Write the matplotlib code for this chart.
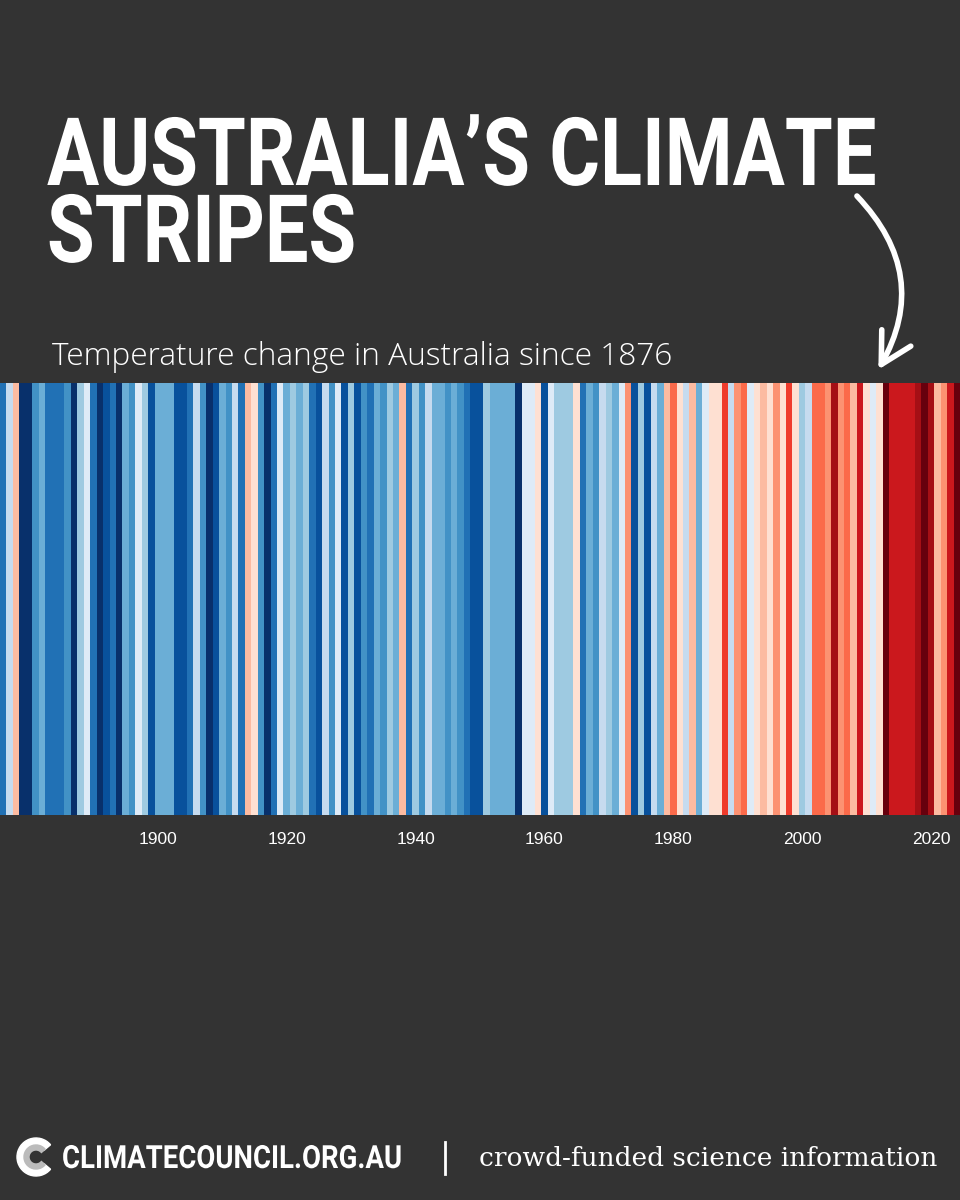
import matplotlib
matplotlib.use("Agg")
import matplotlib.pyplot as plt
from matplotlib.colors import ListedColormap, BoundaryNorm
from matplotlib.patches import Wedge, FancyArrowPatch
from matplotlib.patheffects import AbstractPathEffect
from matplotlib.transforms import Affine2D

# yearly temperature anomaly (deg C)
years = list(range(1876, 2025))
anomaly = [
    -0.55, -0.15, 0.30, -0.85, -0.85, -0.45, -0.35, -0.55, -0.55, -0.55,  # 1876-1885
    -0.45, -0.85, -0.25, -0.05, -0.55, -0.85, -0.70, -0.55, -0.85, -0.35,  # 1886-1895
    -0.45, -0.05, -0.25, -0.70, -0.35, -0.35, -0.35, -0.70, -0.70, -0.55,  # 1896-1905
    -0.15, -0.45, -0.85, -0.70, -0.35, -0.45, -0.15, -0.55, 0.30, 0.10,    # 1906-1915
    -0.45, -0.85, -0.55, -0.05, -0.35, -0.25, -0.35, -0.25, -0.55, -0.70,  # 1916-1925
    -0.15, -0.45, -0.05, -0.70, -0.25, -0.70, -0.45, -0.55, -0.35, -0.45,  # 1926-1935
    -0.25, -0.35, 0.30, -0.55, -0.25, -0.45, -0.15, -0.35, -0.35, -0.45,   # 1936-1945
    -0.35, -0.45, -0.55, -0.70, -0.70, -0.25, -0.35, -0.35, -0.35, -0.35,  # 1946-1955
    -0.85, -0.05, -0.05, 0.10, -0.70, -0.05, -0.25, -0.25, -0.25, 0.10,    # 1956-1965
    -0.55, -0.35, -0.45, -0.15, -0.25, -0.35, -0.05, 0.50, -0.70, -0.25,   # 1966-1975
    -0.70, -0.15, -0.35, 0.30, 0.70, 0.10, -0.15, 0.30, -0.35, -0.05,      # 1976-1985
    0.10, 0.10, 0.90, -0.15, 0.50, 0.70, -0.05, 0.10, 0.30, 0.10,          # 1986-1995
    0.50, 0.10, 0.90, 0.10, -0.25, -0.15, 0.70, 0.70, 0.50, 1.30,          # 1996-2005
    0.50, 0.70, 0.30, 1.10, 0.10, -0.05, 0.10, 1.50, 1.10, 1.10,           # 2006-2015
    1.10, 1.10, 1.30, 1.50, 1.30, 0.30, 0.50, 1.10, 1.50,                  # 2016-2024
]
tick_years = [1900, 1920, 1940, 1960, 1980, 2000, 2020]

stripe_colors = ['#08306b', '#08519c', '#2171b5', '#4292c6', '#6baed6', '#9ecae1',
                 '#c6dbef', '#deebf7', '#fee0d2', '#fcbba1', '#fc9272', '#fb6a4a',
                 '#ef3b2c', '#cb181d', '#a50f15', '#67000d']
bounds = [-0.95, -0.775, -0.625, -0.5, -0.4, -0.3, -0.2, -0.1, 0.0,
          0.2, 0.4, 0.6, 0.8, 1.0, 1.2, 1.4, 1.6]
cmap = ListedColormap(stripe_colors)
norm = BoundaryNorm(bounds, cmap.N)


class StretchY(AbstractPathEffect):
    """Draw text taller about its baseline, giving a condensed look."""
    def __init__(self, sy, y0):
        super().__init__()
        self.sy = sy
        self.y0 = y0

    def draw_path(self, renderer, gc, tpath, affine, rgbFace=None):
        t = affine + Affine2D().translate(0, -self.y0).scale(1, self.sy).translate(0, self.y0)
        renderer.draw_path(gc, tpath, t, rgbFace)


def condense(txt, width_px):
    # shrink the font until the width fits, then stretch it back up in height
    fig.canvas.draw()
    size = txt.get_fontsize()
    w = txt.get_window_extent().width
    txt.set_fontsize(size * width_px / w)
    y0 = txt.get_transform().transform(txt.get_position())[1]
    txt.set_path_effects([StretchY(w / width_px, y0)])


BG = '#333333'
fig = plt.figure(figsize=(9.6, 12), dpi=100, facecolor=BG)

ax = fig.add_axes([0, 1 - 815 / 1200, 1, 432 / 1200])
ax.bar(years, 1.0, width=1.0, color=cmap(norm(anomaly)), linewidth=0)
ax.set_xlim(years[0] - 0.5, years[-1] + 0.5)
ax.set_ylim(0, 1)
ax.set_yticks([])
ax.set_xticks(tick_years)
ax.set_xticklabels([str(y) for y in tick_years], color='white', fontsize=12.5,
                   family='Liberation Sans')
ax.tick_params(axis='x', length=0, pad=12)
for s in ax.spines.values():
    s.set_visible(False)

# overlay in pixel coordinates for the text and decorations
ov = fig.add_axes([0, 0, 1, 1], facecolor='none')
ov.set_xlim(0, 960)
ov.set_ylim(1200, 0)
ov.axis('off')

t1 = ov.text(47, 185, "AUSTRALIA\u2019S CLIMATE", color='white', fontsize=68,
             fontweight='bold', family='Roboto', va='baseline')
t2 = ov.text(47, 262, "STRIPES", color='white', fontsize=68,
             fontweight='bold', family='Roboto', va='baseline')

ov.text(52, 365, "Temperature change in Australia since 1876", color='white',
        fontsize=22.8, fontweight='light', family=['Open Sans', 'DejaVu Sans'],
        va='baseline')

arrow = FancyArrowPatch((855, 194), (877, 372), connectionstyle='arc3,rad=-0.38',
                        arrowstyle='->,head_length=22,head_width=12', color='white',
                        lw=4, capstyle='round', joinstyle='round')
ov.add_patch(arrow)

# footer logo and text
ov.add_patch(Wedge((36, 1157), 19, 40, 320, width=8, color='white'))
ov.add_patch(Wedge((36, 1157), 12, 40, 320, width=5, color='#bbbbbb'))
t3 = ov.text(62, 1168, "CLIMATECOUNCIL.ORG.AU", color='white', fontsize=23,
             fontweight='bold', family='Roboto', va='baseline')
ov.plot([445, 445], [1142, 1174], color='white', lw=2)
ov.text(479, 1166, "crowd-funded science information", color='white', fontsize=19,
        family='DejaVu Serif', va='baseline')

fig.canvas.draw()
w1 = t1.get_window_extent().width
condense(t1, 830)
t2.set_fontsize(t1.get_fontsize())
y2 = t2.get_transform().transform(t2.get_position())[1]
t2.set_path_effects([StretchY(w1 / 830, y2)])
condense(t3, 341)

fig.savefig('out.png', dpi=100, facecolor=BG)
